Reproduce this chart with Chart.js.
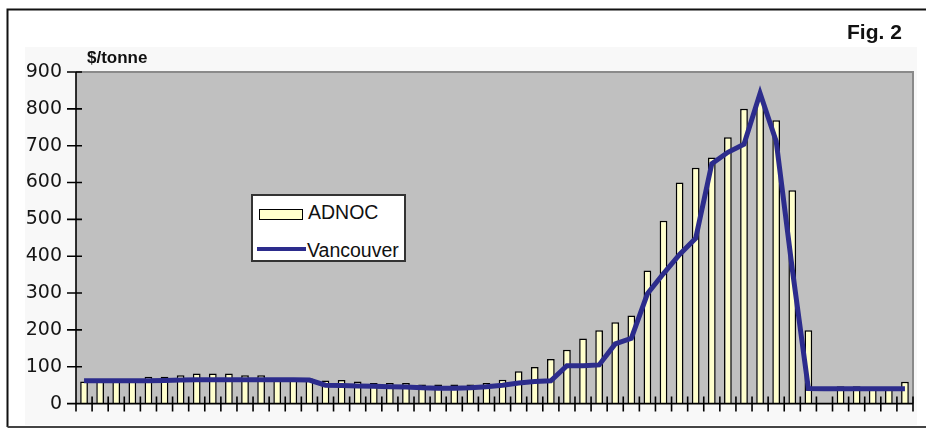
<!DOCTYPE html>
<html>
<head>
<meta charset="utf-8">
<script src="https://cdn.jsdelivr.net/npm/chart.js@4.4.1/dist/chart.umd.min.js"></script>
<style>
  html, body { margin: 0; padding: 0; background: #fff; }
  #wrap { position: relative; width: 926px; height: 429px; overflow: hidden; }
  canvas { display: block; }
  .t { position: absolute; white-space: nowrap; font-family: "Liberation Sans", Arial, sans-serif; color: #111; }
  #unit { left: 87px; top: 49px; font-size: 17px; line-height: 17px; font-weight: bold; }
  #fig { left: 847px; top: 21px; font-size: 21px; line-height: 21px; font-weight: bold; }
  #legend { position: absolute; left: 251px; top: 194px; width: 155px; height: 68px; background: #fff; border: 2px solid #333; box-sizing: border-box; }
  .sw-bar { position: absolute; left: 6px; top: 13px; width: 42px; height: 9px; background: #FFFFCC; border: 1.5px solid #000; }
  .sw-line { position: absolute; left: 4px; top: 51px; width: 49px; height: 4px; background: #2c2c8c; }
  .lt { position: absolute; font-family: "Liberation Sans", Arial, sans-serif; font-size: 19.5px; line-height: 19.5px; color: #111; white-space: nowrap; }
</style>
</head>
<body>
<div id="wrap">
  <canvas id="c" width="926" height="429"></canvas>
  <div class="t" id="unit">$/tonne</div>
  <div class="t" id="fig">Fig. 2</div>
  <div id="legend">
    <div class="sw-bar"></div>
    <div class="lt" style="left:55px; top:7px;">ADNOC</div>
    <div class="sw-line"></div>
    <div class="lt" style="left:54px; top:45px;">Vancouver</div>
  </div>
</div>
<script>
const categories = ['1','2','3','4','5','6','7','8','9','10','11','12','13','14','15','16','17','18','19','20','21','22','23','24','25','26','27','28','29','30','31','32','33','34','35','36','37','38','39','40','41','42','43','44','45','46','47','48','49','50','51','52'];
const adnoc = [60,60,60,67,73,73,77,82,82,82,77,77,67,68,68,63,64,60,56,56,56,52,52,52,52,56,65,88,99,121,146,177,199,221,239,361,496,600,640,668,723,800,830,769,579,199,null,47,47,42,40,59];
const vancouver = [62,62,62,62,62,63,64,65,65,65,65,65,65,65,64,50,49,48,47,46,45,43,42,42,43,46,50,56,60,62,103,103,105,162,177,298,353,405,449,651,682,704,842,712,365,41,40,40,40,40,40,40];
const yTicks = [0,100,200,300,400,500,600,700,800,900];

const decor = {
  id: 'decor',
  beforeDraw(chart) {
    const { ctx, chartArea: a } = chart;
    ctx.save();
    ctx.fillStyle = '#ffffff';
    ctx.fillRect(0, 0, chart.width, chart.height);
    ctx.fillStyle = '#f8f8f8';
    ctx.fillRect(25, 47, 892, 378);
    ctx.fillStyle = '#c0c0c0';
    ctx.fillRect(a.left, a.top, a.right - a.left, a.bottom - a.top);
    ctx.strokeStyle = '#8a8a8a';
    ctx.lineWidth = 2;
    ctx.beginPath();
    ctx.moveTo(a.left, a.top);
    ctx.lineTo(a.right, a.top);
    ctx.lineTo(a.right, a.bottom);
    ctx.stroke();
    ctx.strokeStyle = '#111';
    ctx.lineWidth = 2;
    ctx.beginPath();
    ctx.moveTo(926, 9.5);
    ctx.lineTo(7.5, 9.5);
    ctx.lineTo(7.5, 427);
    ctx.stroke();
    ctx.strokeStyle = '#444';
    ctx.beginPath();
    ctx.moveTo(7.5, 427);
    ctx.lineTo(926, 427);
    ctx.stroke();
    ctx.restore();
  },
  afterDatasetsDraw(chart) {
    const { ctx, chartArea: a, scales: { x, y } } = chart;
    ctx.save();
    ctx.strokeStyle = '#000';
    ctx.lineWidth = 1.6;
    ctx.beginPath();
    ctx.moveTo(a.left, a.top);
    ctx.lineTo(a.left, a.bottom);
    ctx.lineTo(a.right, a.bottom);
    yTicks.forEach(v => {
      const py = y.getPixelForValue(v);
      ctx.moveTo(a.left - 9, py);
      ctx.lineTo(a.left + 6, py);
    });
    const n = categories.length;
    const half = (x.getPixelForValue(1) - x.getPixelForValue(0)) / 2;
    const bounds = [];
    for (let i = 0; i < n; i++) bounds.push(x.getPixelForValue(i) - half);
    bounds.push(x.getPixelForValue(n - 1) + half);
    bounds.forEach(px => {
      ctx.moveTo(px, a.bottom - 7);
      ctx.lineTo(px, a.bottom + 8);
    });
    ctx.stroke();
    ctx.restore();
  }
};

new Chart(document.getElementById('c'), {
  data: {
    labels: categories,
    datasets: [
      {
        type: 'line',
        label: 'Vancouver',
        data: vancouver,
        borderColor: '#2c2c8c',
        borderWidth: 5,
        pointRadius: 0,
        tension: 0,
        borderJoinStyle: 'miter',
        fill: false,
        order: 0
      },
      {
        type: 'bar',
        label: 'ADNOC',
        data: adnoc,
        backgroundColor: '#FFFFCC',
        borderColor: '#000',
        borderWidth: 1.5,
        barPercentage: 0.48,
        categoryPercentage: 1,
        order: 1
      }
    ]
  },
  options: {
    responsive: false,
    animation: false,
    layout: { padding: { left: 0, right: 13, top: 72, bottom: 0 } },
    plugins: { legend: { display: false }, tooltip: { enabled: false } },
    scales: {
      x: {
        type: 'category',
        offset: true,
        grid: { display: false },
        border: { display: false },
        ticks: { display: false },
        afterFit(s) { s.height = 15; }
      },
      y: {
        min: 0,
        max: 900,
        afterBuildTicks(s) { s.ticks = yTicks.map(v => ({ value: v })); },
        grid: { display: true, drawOnChartArea: false, drawTicks: false, color: 'rgba(0,0,0,0)' },
        border: { display: false },
        ticks: {
          padding: 14,
          color: '#151515',
          font: { family: 'DejaVu Sans', size: 19 }
        },
        afterFit(s) { s.width = 76; }
      }
    }
  },
  plugins: [decor]
});
</script>
</body>
</html>
